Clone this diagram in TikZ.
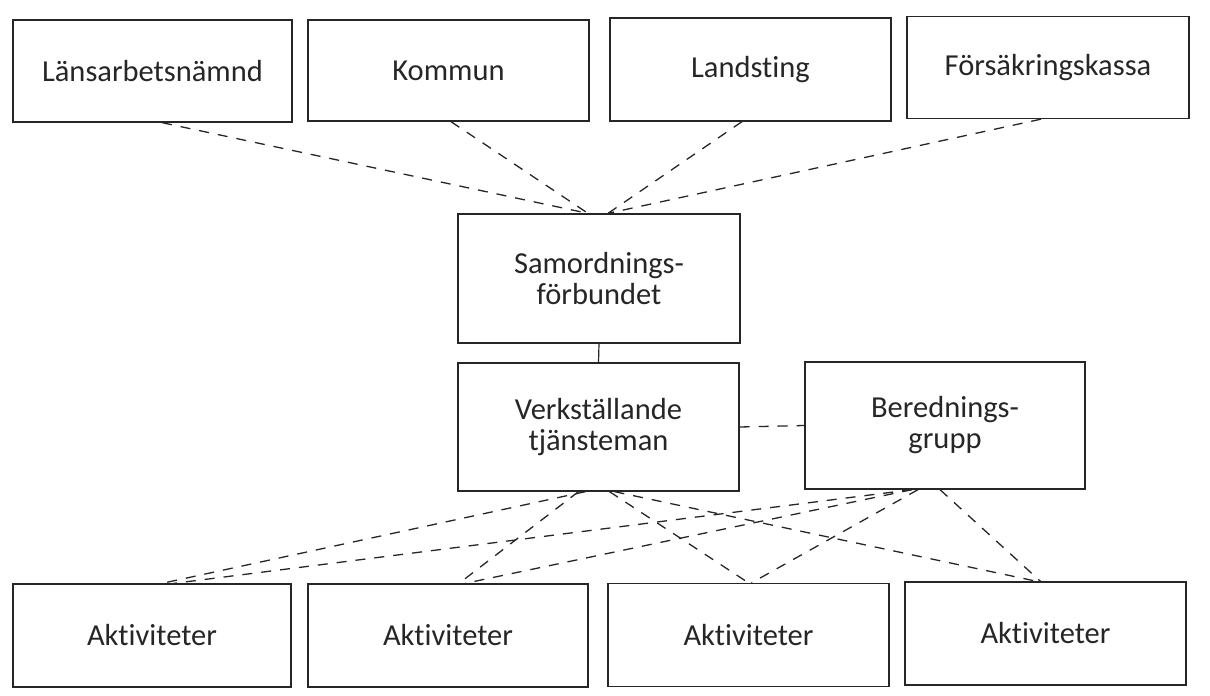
\documentclass[tikz,border=0pt]{standalone}
\usepackage{fontspec}
\setmainfont[Ligatures=NoCommon]{Carlito}
\begin{document}
\begin{tikzpicture}[x=1pt,y=-1pt,
  box/.style={draw=black!85, line width=1.3pt, inner sep=0pt, align=center,
    font=\fontsize{30.5}{31}\selectfont, text=black!85},
  dsh/.style={draw=black!85, line width=1.3pt, dash pattern=on 10pt off 9pt},
  sol/.style={draw=black!85, line width=1.2pt}]
\useasboundingbox (0,0) rectangle (1210,696);
% top row
\node[box, minimum width=279pt, minimum height=102pt] (t1) at (152.5,71) {Länsarbetsnämnd};
\node[box, minimum width=281pt, minimum height=101pt] (t2) at (448.5,70.5) {Kommun};
\node[box, minimum width=281pt, minimum height=103pt] (t3) at (750.5,69.5) {Landsting};
\node[box, minimum width=282pt, minimum height=102pt] (t4) at (1048,67.5) {Försäkringskassa};
% middle
\node[box, minimum width=282pt, minimum height=129pt] (sam) at (599,278.5) {Samordnings-\\förbundet};
\node[box, minimum width=281pt, minimum height=128pt] (verk) at (598.5,427) {Verkställande\\tjänsteman};
\node[box, minimum width=280pt, minimum height=127pt] (ber) at (945,425.5) {Berednings-\\grupp};
% bottom row
\node[box, minimum width=278pt, minimum height=103pt] (b1) at (152,635.5) {Aktiviteter};
\node[box, minimum width=280pt, minimum height=103pt] (b2) at (448,635.5) {Aktiviteter};
\node[box, minimum width=281pt, minimum height=103pt] (b3) at (748.5,635) {Aktiviteter};
\node[box, minimum width=281pt, minimum height=103pt] (b4) at (1045.5,633.5) {Aktiviteter};
% top connectors
\draw[dsh] ([xshift=9.5pt]t1.south) -- ([xshift=-11pt]sam.north);
\draw[dsh] ([xshift=2.5pt]t2.south) -- ([xshift=-11pt]sam.north);
\draw[dsh] ([xshift=-8.5pt]t3.south) -- ([xshift=9pt]sam.north);
\draw[dsh] ([xshift=-7pt]t4.south) -- ([xshift=9pt]sam.north);
% middle connectors
\draw[sol] (sam.south) -- (verk.north);
\draw[dsh] (verk.east) -- (ber.west);
% bottom connectors from Verkställande
\draw[dsh] ([xshift=-13pt]verk.south) -- ([xshift=10pt]b1.north);
\draw[dsh] ([xshift=-20pt]verk.south) -- ([xshift=11pt]b2.north);
\draw[dsh] ([xshift=11pt]verk.south) -- (b3.north);
\draw[dsh] ([xshift=16pt]verk.south) -- ([xshift=-8.5pt]b4.north);
% bottom connectors from Beredningsgrupp
\draw[dsh] ([xshift=-33pt]ber.south) -- ([xshift=22pt]b1.north);
\draw[dsh] ([xshift=-33pt]ber.south) -- ([xshift=17pt]b2.north);
\draw[dsh] ([xshift=-27pt]ber.south) -- ([xshift=3pt]b3.north);
\draw[dsh] ([xshift=-5pt]ber.south) -- ([xshift=-5pt]b4.north);
\end{tikzpicture}
\end{document}
